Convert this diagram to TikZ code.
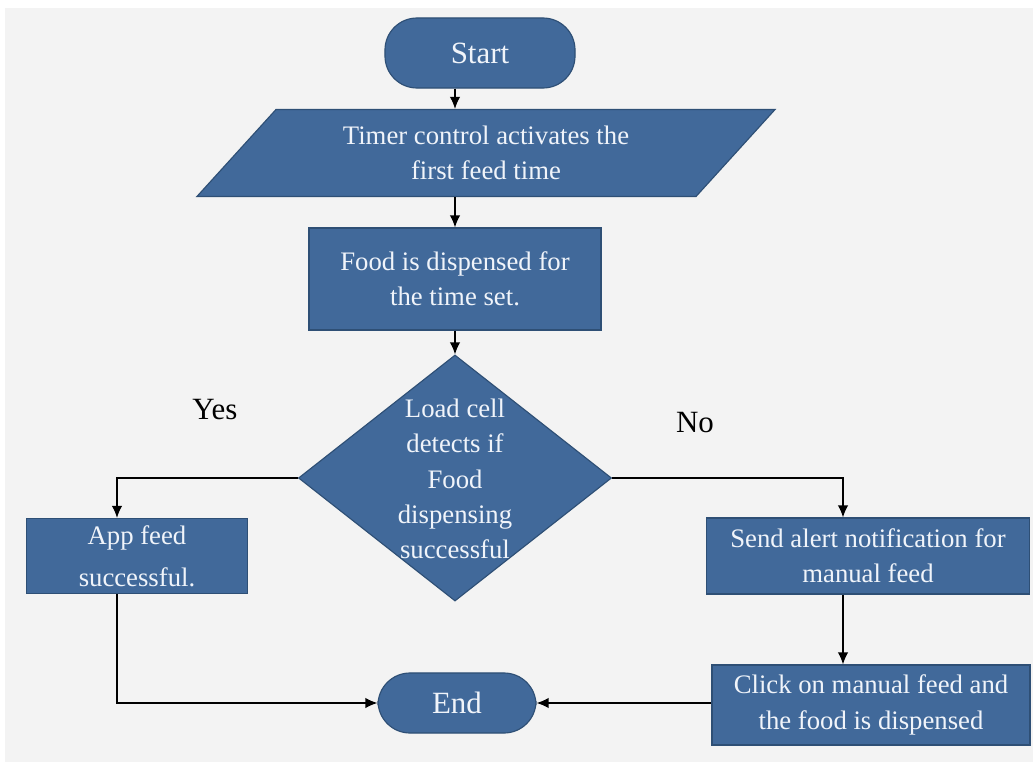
\documentclass[tikz,border=0pt]{standalone}
\usepackage{fontspec}
\setmainfont{Liberation Serif}
\usepackage{tikz}
\usetikzlibrary{arrows,arrows.meta,shapes}
\usetikzlibrary{calc}

\definecolor{boxblue}{HTML}{41699A}
\definecolor{boxline}{HTML}{2E4F75}
\definecolor{boxtext}{HTML}{F0F4FA}
\definecolor{paper}{HTML}{F3F3F3}

\begin{document}
\begin{tikzpicture}[x=0.025cm,y=-0.025cm,->,>={Latex[length=3mm,width=2.6mm]},line width=1pt,
        blk/.style={fill=boxblue,draw=boxline,thick,text=boxtext,align=center,inner sep=2pt,
                    font=\fontsize{19}{25}\selectfont},
        term/.style={blk,rectangle,rounded corners=0.8cm,font=\fontsize{22}{26}\selectfont},
        proc/.style={blk,rectangle},
        io/.style={blk,trapezium,trapezium left angle=37,trapezium right angle=143,trapezium stretches body},
        dec/.style={blk,diamond,inner sep=0pt},
        lbl/.style={font=\fontsize{22}{26}\selectfont}]
        \useasboundingbox (0,0) rectangle (1033,762);
        \fill[white] (0,0) rectangle (1033,762);
        \fill[paper] (5,8) rectangle (1033,762);
        \node[term,minimum width=4.75cm,minimum height=1.75cm] (s) at (480,53) {Start};
        \node[io,minimum width=14.45cm,minimum height=2.175cm] (t) at (486,153) {Timer control activates the\\first feed time};
        \node[proc,minimum width=7.3cm,minimum height=2.55cm] (f) at (455,279) {Food is dispensed for\\the time set.};
        \node[dec,minimum width=7.825cm,minimum height=6.15cm] (d) at (455,478) {};
        \node[text=boxtext,align=center,font=\fontsize{19}{25}\selectfont] (dt) at (455,479) {Load cell\\detects if\\Food\\dispensing\\successful};
        \node[proc,minimum width=5.525cm,minimum height=1.875cm,font=\fontsize{19}{30}\selectfont] (a) at (137,556) {App feed\\successful.};
        \node[proc,minimum width=8.075cm,minimum height=1.9cm] (n) at (868,556) {Send alert notification for\\manual feed};
        \node[proc,minimum width=7.95cm,minimum height=2cm] (c) at (871,705) {Click on manual feed and\\the food is dispensed};
        \node[term,minimum width=3.95cm,minimum height=1.5cm] (e) at (457,703) {End};
        \node[lbl] (y) at (215,410) {Yes};
        \node[lbl] (no) at (695,423) {No};
        \coordinate (yd) at (117,478);
        \coordinate (nd) at (843,478);
        \draw (f |- s.south) -- (f |- t.north);
        \draw (f |- t.south) -- (f.north);
        \draw (f.south) -- (d.north);
        \draw (d.west) -- (yd) -- (a.north -| yd);
        \draw (d.east) -- (nd) -- (n.north -| nd);
        \draw (n.south -| nd) -- (c.north -| nd);
        \draw (a.south -| yd) |- (e.west);
        \draw (e.east -| c.west) -- (e.east);
\end{tikzpicture}
\end{document}
